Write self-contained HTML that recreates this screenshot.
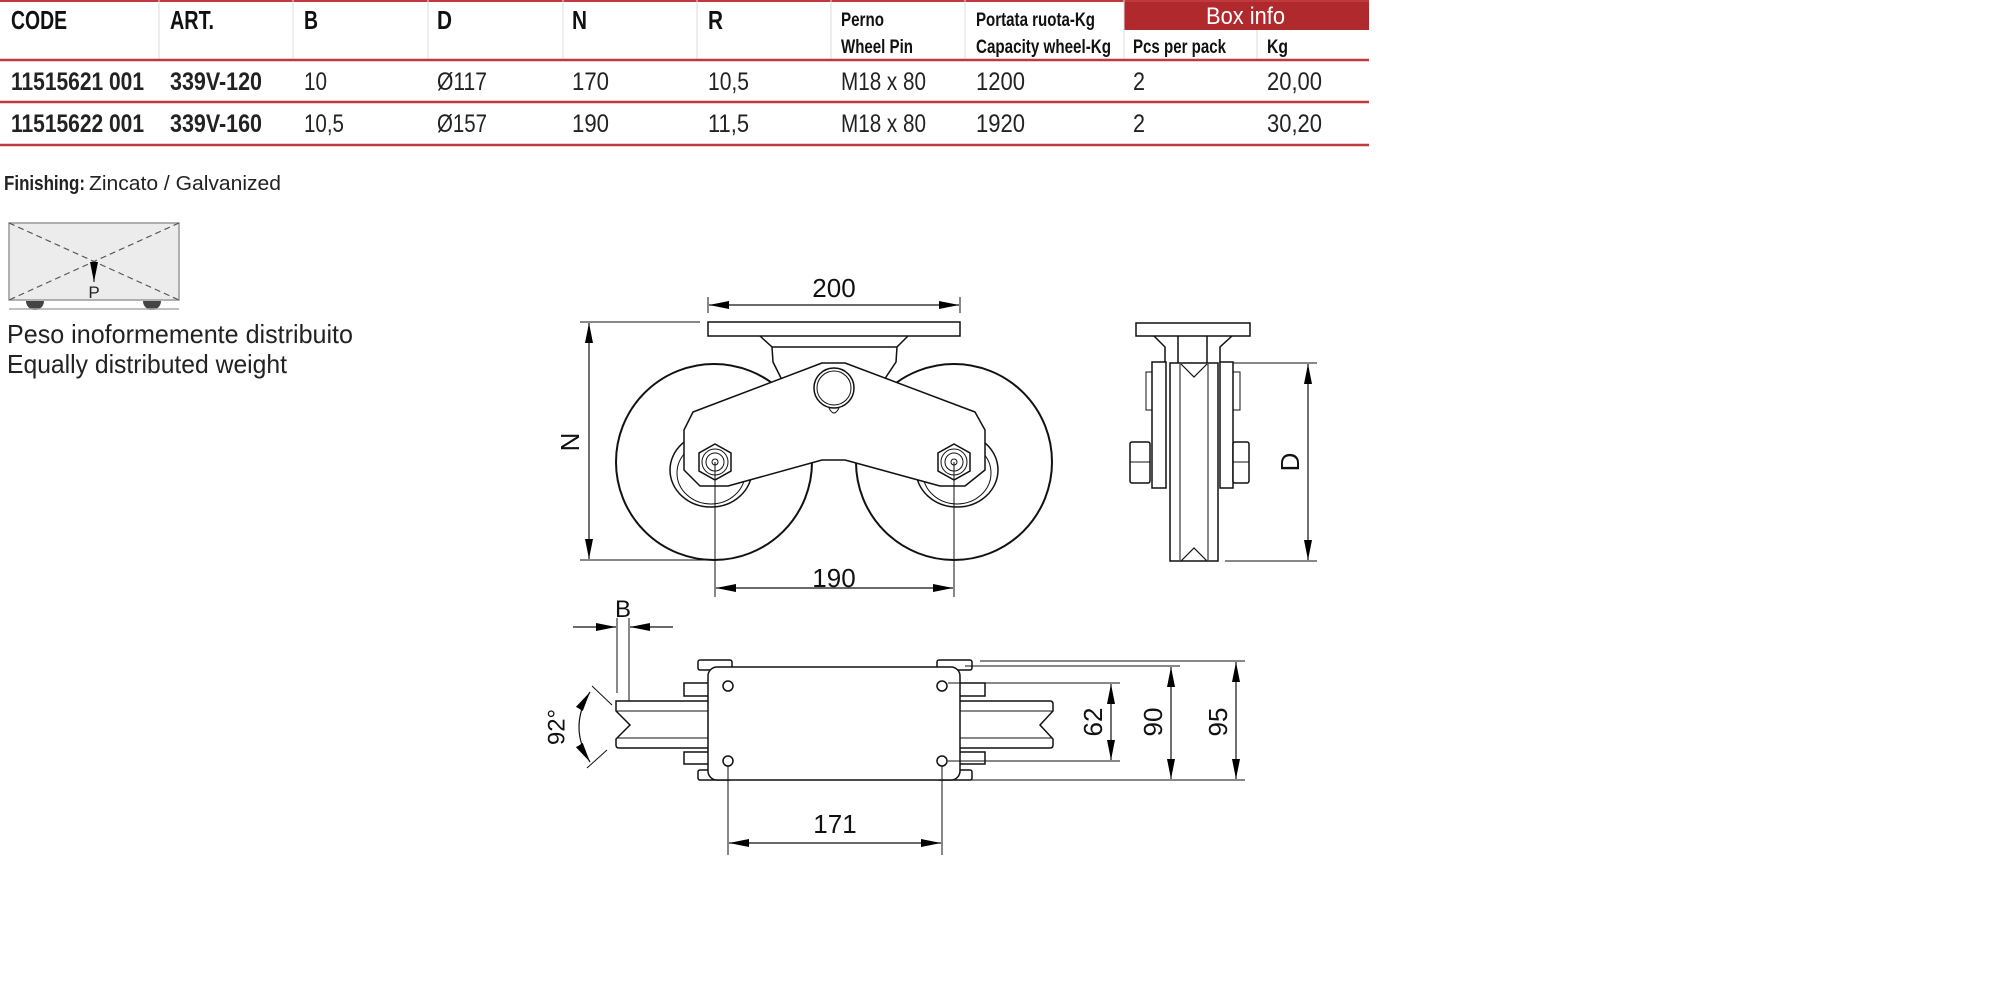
<!DOCTYPE html>
<html><head><meta charset="utf-8"><style>
html,body{margin:0;padding:0;background:#fff;}
svg{display:block;}
text{font-family:"Liberation Sans",sans-serif;}
</style></head><body>
<svg width="1996" height="1004" viewBox="0 0 1996 1004" xmlns="http://www.w3.org/2000/svg">
<defs>
<marker id="ar" viewBox="0 0 20 8" refX="20" refY="4" markerWidth="20" markerHeight="8" markerUnits="userSpaceOnUse" orient="auto-start-reverse"><path d="M0,0 L20,4 L0,8 Z" fill="#000"/></marker>
</defs>
<!-- TABLE -->
<rect x="1124" y="0" width="245" height="30" fill="#b0292d"/>
<line x1="0" y1="1" x2="1369" y2="1" stroke="#c0393d" stroke-width="2"/>
<g stroke="#ddd" stroke-width="1">
<line x1="159" y1="0" x2="159" y2="59"/><line x1="293" y1="0" x2="293" y2="59"/><line x1="428" y1="0" x2="428" y2="59"/><line x1="563" y1="0" x2="563" y2="59"/><line x1="697" y1="0" x2="697" y2="59"/><line x1="831" y1="0" x2="831" y2="59"/><line x1="965" y1="0" x2="965" y2="59"/><line x1="1124" y1="0" x2="1124" y2="59"/><line x1="1257" y1="30" x2="1257" y2="59"/>
</g>
<g stroke="#c0393d" stroke-width="2.5"><line x1="0" y1="60" x2="1369" y2="60"/><line x1="0" y1="102" x2="1369" y2="102"/><line x1="0" y1="145" x2="1369" y2="145"/></g>
<g font-weight="bold" font-size="26" fill="#111">
<text x="11" y="29" textLength="56" lengthAdjust="spacingAndGlyphs">CODE</text>
<text x="170" y="29" textLength="44" lengthAdjust="spacingAndGlyphs">ART.</text>
<text x="304" y="29" textLength="14" lengthAdjust="spacingAndGlyphs">B</text>
<text x="437" y="29" textLength="15" lengthAdjust="spacingAndGlyphs">D</text>
<text x="572" y="29" textLength="15" lengthAdjust="spacingAndGlyphs">N</text>
<text x="708" y="29" textLength="15" lengthAdjust="spacingAndGlyphs">R</text>
</g>
<g font-weight="bold" font-size="19" fill="#111">
<text x="841" y="26" textLength="43" lengthAdjust="spacingAndGlyphs">Perno</text>
<text x="841" y="53" textLength="72" lengthAdjust="spacingAndGlyphs">Wheel Pin</text>
<text x="976" y="26" textLength="119" lengthAdjust="spacingAndGlyphs">Portata ruota-Kg</text>
<text x="976" y="53" textLength="135" lengthAdjust="spacingAndGlyphs">Capacity wheel-Kg</text>
<text x="1133" y="53" textLength="93" lengthAdjust="spacingAndGlyphs">Pcs per pack</text>
<text x="1267" y="53" textLength="21" lengthAdjust="spacingAndGlyphs">Kg</text>
</g>
<text x="1206" y="24" font-size="24" fill="#fff" textLength="79" lengthAdjust="spacingAndGlyphs">Box info</text>
<g font-size="25" fill="#222">
<text x="11" y="90" font-weight="bold" textLength="133" lengthAdjust="spacingAndGlyphs">11515621 001</text>
<text x="170" y="90" font-weight="bold" textLength="92" lengthAdjust="spacingAndGlyphs">339V-120</text>
<text x="304" y="90" textLength="23" lengthAdjust="spacingAndGlyphs">10</text>
<text x="437" y="90" textLength="50" lengthAdjust="spacingAndGlyphs">Ø117</text>
<text x="572" y="90" textLength="37" lengthAdjust="spacingAndGlyphs">170</text>
<text x="708" y="90" textLength="41" lengthAdjust="spacingAndGlyphs">10,5</text>
<text x="841" y="90" textLength="85" lengthAdjust="spacingAndGlyphs">M18 x 80</text>
<text x="976" y="90" textLength="49" lengthAdjust="spacingAndGlyphs">1200</text>
<text x="1133" y="90" textLength="12" lengthAdjust="spacingAndGlyphs">2</text>
<text x="1267" y="90" textLength="55" lengthAdjust="spacingAndGlyphs">20,00</text>
<text x="11" y="132" font-weight="bold" textLength="133" lengthAdjust="spacingAndGlyphs">11515622 001</text>
<text x="170" y="132" font-weight="bold" textLength="92" lengthAdjust="spacingAndGlyphs">339V-160</text>
<text x="304" y="132" textLength="40" lengthAdjust="spacingAndGlyphs">10,5</text>
<text x="437" y="132" textLength="50" lengthAdjust="spacingAndGlyphs">Ø157</text>
<text x="572" y="132" textLength="37" lengthAdjust="spacingAndGlyphs">190</text>
<text x="708" y="132" textLength="41" lengthAdjust="spacingAndGlyphs">11,5</text>
<text x="841" y="132" textLength="85" lengthAdjust="spacingAndGlyphs">M18 x 80</text>
<text x="976" y="132" textLength="49" lengthAdjust="spacingAndGlyphs">1920</text>
<text x="1133" y="132" textLength="12" lengthAdjust="spacingAndGlyphs">2</text>
<text x="1267" y="132" textLength="55" lengthAdjust="spacingAndGlyphs">30,20</text>
</g>
<text x="4" y="190" font-size="20" font-weight="bold" fill="#222" textLength="81" lengthAdjust="spacingAndGlyphs">Finishing:</text>
<text x="89" y="190" font-size="20" fill="#222" textLength="192" lengthAdjust="spacingAndGlyphs">Zincato / Galvanized</text>
<!-- ICON -->
<rect x="9" y="223" width="170" height="77" fill="#ececec" stroke="#999" stroke-width="1.5"/>
<g stroke="#555" stroke-width="1.2" stroke-dasharray="6,4"><line x1="9" y1="223" x2="179" y2="300"/><line x1="179" y1="223" x2="9" y2="300"/></g>
<line x1="94" y1="262" x2="94" y2="282" stroke="#222" stroke-width="1.2" marker-end="url(#ar)"/>
<text x="94" y="298" font-size="17" text-anchor="middle" fill="#222">P</text>
<path d="M26,301 A9,9 0 0 0 44,301 Z M143,301 A9,9 0 0 0 161,301 Z" fill="#444"/>
<line x1="9" y1="309" x2="179" y2="309" stroke="#aaa" stroke-width="1.5"/>
<text x="7" y="343" font-size="26" fill="#222" textLength="346" lengthAdjust="spacingAndGlyphs">Peso inoformemente distribuito</text>
<text x="7" y="373" font-size="26" fill="#222" textLength="280" lengthAdjust="spacingAndGlyphs">Equally distributed weight</text>
<!-- FRONT VIEW -->
<g fill="none" stroke="#111" stroke-width="1.5">
<line x1="708" y1="297" x2="708" y2="313" stroke-width="1"/><line x1="960" y1="297" x2="960" y2="313" stroke-width="1"/>
<line x1="709" y1="305" x2="959" y2="305" marker-start="url(#ar)" marker-end="url(#ar)" stroke-width="1.2"/>
<rect x="708" y="322" width="252" height="14" fill="#fff"/>
<path d="M760,336 L772,347 L773,362 L782,380 M908,336 L897,347 L896,362 L884,380 M772,347 L897,347"/>
<line x1="580" y1="322" x2="700" y2="322" stroke-width="1"/><line x1="580" y1="560" x2="720" y2="560" stroke-width="1"/>
<line x1="589" y1="323" x2="589" y2="559" marker-start="url(#ar)" marker-end="url(#ar)" stroke-width="1.2"/>
<circle cx="714" cy="462" r="98" fill="#fff" stroke-width="2"/>
<circle cx="954" cy="462" r="98" fill="#fff" stroke-width="2"/>
<ellipse cx="711" cy="470" rx="41" ry="37"/><ellipse cx="711" cy="473" rx="34" ry="31" stroke-width="1"/>
<ellipse cx="957" cy="470" rx="41" ry="37"/><ellipse cx="957" cy="473" rx="34" ry="31" stroke-width="1"/>
<path d="M822,363 L845,363 L975,412 L985,430 L985,470 L965,486 L940,486 L845,460 L822,460 L728,486 L700,486 L684,470 L684,430 L693,412 Z" fill="#fff" stroke-linejoin="round"/>
<circle cx="834" cy="388" r="20"/><circle cx="834" cy="388" r="17" stroke-width="1"/>
<path d="M829,408 Q834,418 839,408" stroke-width="1"/>
<polygon points="715,444 731,453 731,471 715,480 699,471 699,453"/>
<circle cx="715" cy="462" r="13" stroke-width="1"/><circle cx="715" cy="462" r="9" stroke-width="1"/><circle cx="715" cy="462" r="3" stroke-width="1"/>
<polygon points="954,444 970,453 970,471 954,480 938,471 938,453"/>
<circle cx="954" cy="462" r="13" stroke-width="1"/><circle cx="954" cy="462" r="9" stroke-width="1"/><circle cx="954" cy="462" r="3" stroke-width="1"/>
<line x1="715" y1="462" x2="715" y2="597" stroke-width="1"/><line x1="954" y1="462" x2="954" y2="597" stroke-width="1"/>
<line x1="716" y1="588" x2="953" y2="588" marker-start="url(#ar)" marker-end="url(#ar)" stroke-width="1.2"/>
</g>
<text x="834" y="297" font-size="26" text-anchor="middle" fill="#111">200</text>
<text x="834" y="587" font-size="26" text-anchor="middle" fill="#111">190</text>
<text transform="translate(570,442) rotate(-90)" font-size="26" text-anchor="middle" dominant-baseline="central" fill="#111">N</text>
<!-- SIDE VIEW -->
<g fill="none" stroke="#111" stroke-width="1.5">
<rect x="1136" y="323" width="114" height="13"/>
<path d="M1154,336 L1165,347 L1165,363 M1232,336 L1220,347 L1220,363 M1178,336 L1178,363 M1207,336 L1207,363"/>
<rect x="1146" y="372" width="6" height="38" stroke-width="1"/><rect x="1233" y="372" width="7" height="38" stroke-width="1"/>
<rect x="1152" y="362" width="14" height="126" fill="#fff"/><rect x="1220" y="362" width="13" height="126" fill="#fff"/>
<rect x="1130" y="442" width="20" height="41" rx="2" fill="#fff"/><line x1="1130" y1="462" x2="1150" y2="462" stroke-width="1"/>
<rect x="1233" y="442" width="16" height="41" rx="2" fill="#fff"/><line x1="1233" y1="462" x2="1249" y2="462" stroke-width="1"/>
<rect x="1170" y="363" width="48" height="198" fill="#fff"/>
<line x1="1180" y1="364" x2="1180" y2="560" stroke-width="1"/><line x1="1208" y1="364" x2="1208" y2="560" stroke-width="1"/>
<path d="M1181,364 L1194,377 L1207,364 M1181,561 L1194,548 L1207,561" stroke-width="1.2"/>
<line x1="1233" y1="363" x2="1317" y2="363" stroke-width="1"/><line x1="1225" y1="561" x2="1317" y2="561" stroke-width="1"/>
<line x1="1308" y1="364" x2="1308" y2="560" marker-start="url(#ar)" marker-end="url(#ar)" stroke-width="1.2"/>
</g>
<text transform="translate(1290,462) rotate(-90)" font-size="26" text-anchor="middle" dominant-baseline="central" fill="#111">D</text>
<!-- BOTTOM VIEW -->
<g fill="none" stroke="#111" stroke-width="1.5">
<line x1="617" y1="618" x2="617" y2="693" stroke-width="1"/><line x1="629" y1="618" x2="629" y2="715" stroke-width="1"/>
<line x1="573" y1="627" x2="616" y2="627" marker-end="url(#ar)" stroke-width="1.2"/>
<line x1="673" y1="627" x2="630" y2="627" marker-end="url(#ar)" stroke-width="1.2"/>
<line x1="592" y1="686" x2="612" y2="705" stroke-width="1"/><line x1="587" y1="768" x2="607" y2="750" stroke-width="1"/>
<path d="M590,692 Q568,727 590,762" stroke-width="1.2" marker-start="url(#ar)" marker-end="url(#ar)"/>
<rect x="698" y="660" width="34" height="10" rx="2" fill="#fff"/><rect x="937" y="660" width="35" height="10" rx="2" fill="#fff"/>
<rect x="698" y="770" width="34" height="10" rx="2" fill="#fff"/><rect x="937" y="770" width="35" height="10" rx="2" fill="#fff"/>
<rect x="684" y="683" width="26" height="13" fill="#fff"/><rect x="958" y="683" width="27" height="13" fill="#fff"/>
<rect x="684" y="752" width="26" height="12" fill="#fff"/><rect x="958" y="752" width="27" height="12" fill="#fff"/>
<path d="M616,701 L1050,701 Q1053,701 1053,704 L1053,711 L1040,725 L1053,739 L1053,745 Q1053,748 1050,748 L619,748 Q616,748 616,745 L616,739 L630,725 L616,711 Z" fill="#fff"/>
<line x1="617" y1="711" x2="1052" y2="711" stroke-width="1"/><line x1="617" y1="738" x2="1052" y2="738" stroke-width="1"/>
<rect x="708" y="667" width="252" height="113" rx="9" fill="#fff"/>
<circle cx="728" cy="686" r="5"/><circle cx="942" cy="686" r="5"/><circle cx="728" cy="761" r="5"/><circle cx="942" cy="761" r="5"/>
<g stroke-width="1">
<line x1="980" y1="661" x2="1245" y2="661"/><line x1="960" y1="780" x2="1245" y2="780"/>
<line x1="965" y1="666" x2="1180" y2="666"/>
<line x1="948" y1="683" x2="1120" y2="683"/><line x1="948" y1="761" x2="1120" y2="761"/>
<line x1="728" y1="766" x2="728" y2="855"/><line x1="942" y1="766" x2="942" y2="855"/>
</g>
<line x1="1111" y1="684" x2="1111" y2="760" marker-start="url(#ar)" marker-end="url(#ar)" stroke-width="1.2"/>
<line x1="1171" y1="667" x2="1171" y2="779" marker-start="url(#ar)" marker-end="url(#ar)" stroke-width="1.2"/>
<line x1="1236" y1="662" x2="1236" y2="779" marker-start="url(#ar)" marker-end="url(#ar)" stroke-width="1.2"/>
<line x1="729" y1="843" x2="941" y2="843" marker-start="url(#ar)" marker-end="url(#ar)" stroke-width="1.2"/>
</g>
<text x="623" y="617" font-size="24" text-anchor="middle" fill="#111">B</text>
<text x="835" y="833" font-size="26" text-anchor="middle" fill="#111">171</text>
<text transform="translate(557,727) rotate(-90)" font-size="24" text-anchor="middle" dominant-baseline="central" fill="#111">92°</text>
<text transform="translate(1093,722) rotate(-90)" font-size="26" text-anchor="middle" dominant-baseline="central" fill="#111">62</text>
<text transform="translate(1153,722) rotate(-90)" font-size="26" text-anchor="middle" dominant-baseline="central" fill="#111">90</text>
<text transform="translate(1218,722) rotate(-90)" font-size="26" text-anchor="middle" dominant-baseline="central" fill="#111">95</text>
</svg>
</body></html>
